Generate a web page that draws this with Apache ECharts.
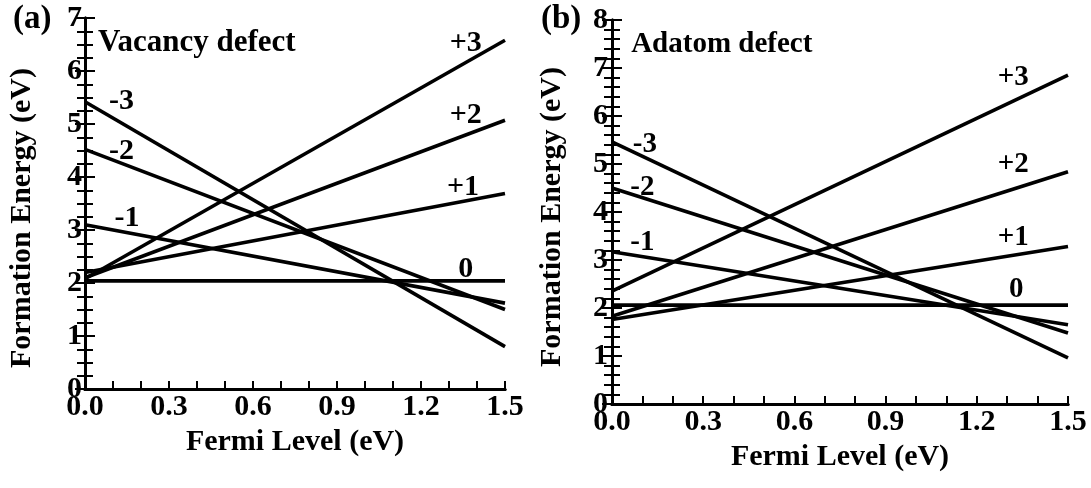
<!DOCTYPE html>
<html>
<head>
<meta charset="utf-8">
<script src="https://cdn.jsdelivr.net/npm/echarts@6/dist/echarts.min.js"></script>
<style>
  html, body { margin: 0; padding: 0; background: #fff; }
  #main { width: 1091px; height: 488px; }
</style>
</head>
<body>
<div id="main"></div>
<script>
// Fermi level end points (eV)
var fermi = [0.0, 1.5];
var charges = ['+3', '+2', '+1', '0', '-1', '-2', '-3'];

// (a) vacancy defect: formation energy at Ef = 0 and Ef = 1.5
var vacancyAt0  = [2.08, 2.10, 2.20, 2.04, 3.10, 4.52, 5.42];
var vacancyAt15 = [6.58, 5.07, 3.69, 2.04, 1.62, 1.50, 0.80];

// (b) adatom defect
var adatomAt0  = [2.35, 1.83, 1.76, 2.06, 3.17, 4.50, 5.46];
var adatomAt15 = [6.85, 4.84, 3.28, 2.06, 1.65, 1.48, 0.96];

var FONT = 'Liberation Serif';

function boldText(size) {
    return { color: '#000', fontFamily: FONT, fontWeight: 'bold', fontSize: size };
}

function xAxes(gridIndex, gap) {
    return [
        {
            gridIndex: gridIndex, type: 'value', position: 'bottom',
            min: 0, max: 1.5, interval: 0.3,
            name: 'Fermi Level (eV)', nameLocation: 'middle', nameGap: gap,
            nameTextStyle: boldText(30),
            axisLine: { lineStyle: { color: '#000', width: 3 } },
            axisTick: { inside: true, length: 8, lineStyle: { color: '#000', width: 2 } },
            minorTick: { show: true, splitNumber: 3, length: 8, lineStyle: { color: '#000', width: 2 } },
            axisLabel: Object.assign(boldText(30), { margin: 3, formatter: function (v) { return v.toFixed(1); } }),
            splitLine: { show: false }
        },
        {
            gridIndex: gridIndex, type: 'value', position: 'top',
            min: 0, max: 1.5,
            axisLine: { lineStyle: { color: '#000', width: 3 } },
            axisTick: { show: false }, axisLabel: { show: false }, splitLine: { show: false }
        }
    ];
}

function yAxes(gridIndex, max, minorSplit, margin) {
    var side = {
        gridIndex: gridIndex, type: 'value',
        min: 0, max: max, interval: 1,
        axisLine: { lineStyle: { color: '#000', width: 3 } },
        axisTick: { inside: true, length: 10, lineStyle: { color: '#000', width: 2 } },
        minorTick: { show: true, splitNumber: minorSplit, length: 8, lineStyle: { color: '#000', width: 2 } },
        splitLine: { show: false }
    };
    var left = Object.assign({}, side, {
        position: 'left',
        axisLabel: Object.assign(boldText(30), { margin: margin })
    });
    var right = Object.assign({}, side, {
        position: 'right',
        axisLabel: { show: false }
    });
    return [left, right];
}

function tag(text, x, y, size, align) {
    return {
        name: text, coord: [x, y], symbolSize: 0,
        label: Object.assign(boldText(size), {
            show: true, formatter: '{b}',
            position: align === 'left' ? 'right' : 'inside', distance: 0
        })
    };
}

// label anchors, in data units of each panel
var tagsA = [
    tag('+3', 1.36, 6.53, 30), tag('+2', 1.36, 5.17, 30), tag('+1', 1.35, 3.81, 30), tag('0', 1.36, 2.26, 30),
    tag('-1', 0.15, 3.23, 30), tag('-2', 0.13, 4.49, 30), tag('-3', 0.13, 5.42, 30),
    tag('Vacancy defect', 0.046, 6.53, 31, 'left')
];
var tagsB = [
    tag('+3', 1.32, 6.80, 29), tag('+2', 1.32, 4.99, 29), tag('+1', 1.32, 3.46, 29), tag('0', 1.33, 2.38, 29),
    tag('-1', 0.10, 3.36, 29), tag('-2', 0.10, 4.50, 29), tag('-3', 0.108, 5.40, 29),
    tag('Adatom defect', 0.063, 7.48, 29, 'left')
];

function panelSeries(at0, at15, xIdx, yIdx, tags) {
    var list = charges.map(function (q, i) {
        return {
            name: q, type: 'line', xAxisIndex: xIdx, yAxisIndex: yIdx,
            data: [[fermi[0], at0[i]], [fermi[1], at15[i]]],
            showSymbol: false, silent: true,
            lineStyle: { color: '#000', width: 3.6 }
        };
    });
    list[0].markPoint = { silent: true, data: tags };
    return list;
}

function yTitle(cx, cy) {
    return {
        type: 'text', x: cx, y: cy, rotation: Math.PI / 2,
        style: Object.assign(boldText(30), {
            text: 'Formation Energy (eV)', fill: '#000', align: 'center', verticalAlign: 'middle'
        })
    };
}

var myChart = echarts.init(document.getElementById('main'));
var option = {
    animation: false,
    backgroundColor: '#fff',
    grid: [
        { left: 85, top: 18, right: 586, bottom: 99 },
        { left: 612, top: 20, right: 23, bottom: 84 }
    ],
    xAxis: xAxes(0, 36).concat(xAxes(1, 35)),
    yAxis: yAxes(0, 7, 4, 3).concat(yAxes(1, 8, 5, 4)),
    graphic: [
        { type: 'text', left: 13, top: 3, style: Object.assign(boldText(33), { text: '(a)', fill: '#000' }) },
        { type: 'text', left: 541, top: 3, style: Object.assign(boldText(33), { text: '(b)', fill: '#000' }) },
        yTitle(22, 218),
        yTitle(552, 217)
    ],
    series: panelSeries(vacancyAt0, vacancyAt15, 0, 0, tagsA)
        .concat(panelSeries(adatomAt0, adatomAt15, 2, 2, tagsB))
};
myChart.setOption(option);
</script>
</body>
</html>
